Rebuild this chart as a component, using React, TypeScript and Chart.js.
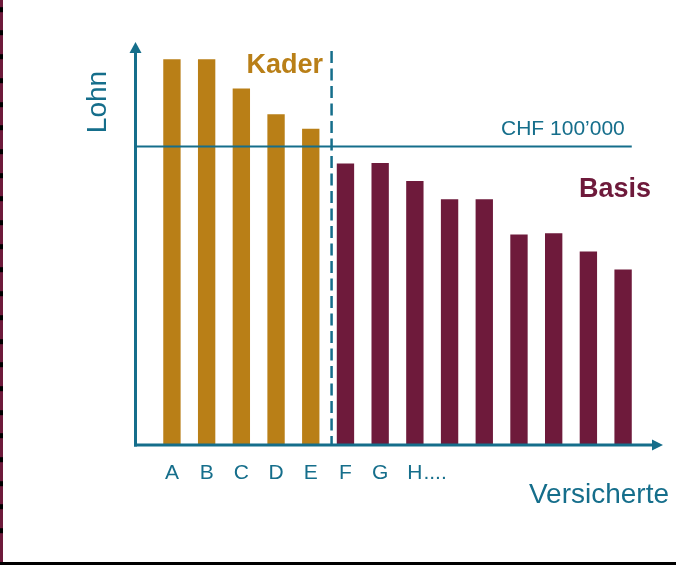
import React, { useEffect, useRef } from "react";
import { Chart, registerables } from "chart.js";

Chart.register(...registerables);

// ---- data ----
const tickLabels = ["A", "B", "C", "D", "E", "F", "G", "H"];
const tickEllipsis = "....";
const kaderValues = [129200, 129200, 119400, 110800, 105900];
const basisValues = [94300, 94500, 88400, 82300, 82300, 70500, 70900, 64800, 58800];
const thresholdValue = 100000;
const thresholdLabel = "CHF 100’000";
const kaderLabel = "Kader";
const basisLabel = "Basis";
const yTitle = "Lohn";
const xTitle = "Versicherte";
const dividerValue = 4.6;

// ---- styles ----
const FONT = '"Liberation Sans", Arial, sans-serif';
const TEAL = "#156E8B";
const GOLD = "#B97F17";
const MAROON = "#6E1A3B";
const TICK_SIZE = 21;

const kaderPoints = kaderValues.map((v, i) => ({ x: i, y: v }));
const basisPoints = basisValues.map((v, i) => ({ x: kaderValues.length + i, y: v }));

const annotPlugin = {
  id: "annot",
  afterDatasetsDraw(chart: any) {
    const { ctx, chartArea: ca, scales } = chart;
    const x = scales.x;
    const y = scales.y;
    ctx.save();

    // threshold line up to the right edge of the last bar
    const meta = chart.getDatasetMeta(1);
    const lastBar = meta.data[meta.data.length - 1];
    const lineEnd = lastBar.x + lastBar.width / 2;
    const ty = y.getPixelForValue(thresholdValue);
    ctx.strokeStyle = TEAL;
    ctx.lineWidth = 1.8;
    ctx.beginPath();
    ctx.moveTo(ca.left, ty);
    ctx.lineTo(lineEnd, ty);
    ctx.stroke();

    // dashed divider
    const dx = x.getPixelForValue(dividerValue);
    ctx.setLineDash([12, 5.5]);
    ctx.lineWidth = 2.5;
    ctx.beginPath();
    ctx.moveTo(dx, ca.top + 9);
    ctx.lineTo(dx, ca.bottom);
    ctx.stroke();
    ctx.setLineDash([]);

    // axes with arrows
    ctx.lineWidth = 3;
    ctx.strokeStyle = TEAL;
    ctx.fillStyle = TEAL;
    ctx.beginPath();
    ctx.moveTo(ca.left, ca.bottom + 1.5);
    ctx.lineTo(ca.left, ca.top + 10);
    ctx.stroke();
    ctx.beginPath();
    ctx.moveTo(ca.left - 1.5, ca.bottom);
    ctx.lineTo(ca.right - 10, ca.bottom);
    ctx.stroke();
    ctx.beginPath();
    ctx.moveTo(ca.left, ca.top);
    ctx.lineTo(ca.left - 6, ca.top + 11);
    ctx.lineTo(ca.left + 6, ca.top + 11);
    ctx.closePath();
    ctx.fill();
    ctx.beginPath();
    ctx.moveTo(ca.right, ca.bottom);
    ctx.lineTo(ca.right - 11, ca.bottom - 5.5);
    ctx.lineTo(ca.right - 11, ca.bottom + 5.5);
    ctx.closePath();
    ctx.fill();

    // texts
    ctx.textBaseline = "alphabetic";
    ctx.textAlign = "right";
    ctx.fillStyle = TEAL;
    ctx.font = `21px ${FONT}`;
    ctx.fillText(thresholdLabel, lineEnd - 7, ty - 11);

    ctx.font = `bold 27px ${FONT}`;
    ctx.fillStyle = GOLD;
    ctx.fillText(kaderLabel, dx - 8.5, ca.top + 31);
    ctx.fillStyle = MAROON;
    ctx.fillText(basisLabel, ca.right - 12, ty + 51);

    ctx.fillStyle = TEAL;
    ctx.font = `28px ${FONT}`;
    ctx.fillText(xTitle, ca.right + 6, ca.bottom + 58);

    ctx.save();
    ctx.translate(ca.left - 29.5, ca.top + 60);
    ctx.rotate(-Math.PI / 2);
    ctx.textAlign = "center";
    ctx.fillText(yTitle, 0, 0);
    ctx.restore();

    // ellipsis after last tick label
    const items = x.getLabelItems ? x.getLabelItems() : [];
    const last = items[tickLabels.length - 1];
    ctx.font = `${TICK_SIZE}px ${FONT}`;
    const lastLabel = tickLabels[tickLabels.length - 1];
    const hw = ctx.measureText(lastLabel).width;
    const hx = x.getPixelForValue(tickLabels.length - 1);
    let ly = ca.bottom + 28;
    let baseline = "middle";
    if (last) {
      ly = last.options.translation[1] + last.textOffset;
      baseline = last.options.textBaseline || "middle";
    }
    ctx.textAlign = "left";
    ctx.textBaseline = baseline;
    ctx.fillText(tickEllipsis, hx + hw / 2 + 1, ly);

    ctx.restore();
  },
};

export default function App() {
  const canvasRef = useRef<HTMLCanvasElement | null>(null);

  useEffect(() => {
    document.body.style.margin = "0";
    const canvas = canvasRef.current;
    if (!canvas) return;
    const chart = new Chart(canvas, {
      type: "bar",
      data: {
        datasets: [
          {
            label: kaderLabel,
            data: kaderPoints as any,
            backgroundColor: GOLD,
            grouped: false,
            barPercentage: 0.5,
            categoryPercentage: 1,
          } as any,
          {
            label: basisLabel,
            data: basisPoints as any,
            backgroundColor: MAROON,
            grouped: false,
            barPercentage: 0.5,
            categoryPercentage: 1,
          } as any,
        ],
      },
      options: {
        responsive: false,
        animation: false,
        layout: { padding: { left: 135.5, right: 13, top: 42, bottom: 0 } },
        plugins: {
          legend: { display: false },
          tooltip: { enabled: false },
        },
        scales: {
          x: {
            type: "linear",
            offset: false,
            min: -1.05,
            max: 14.15,
            grid: { display: false, drawTicks: false, offset: false },
            border: { display: false },
            afterBuildTicks: (s: any) => {
              s.ticks = tickLabels.map((_, i) => ({ value: i }));
            },
            afterFit: (s: any) => {
              s.height = 117;
            },
            ticks: {
              autoSkip: false,
              maxRotation: 0,
              padding: 16,
              color: TEAL,
              font: { family: FONT, size: TICK_SIZE },
              callback: (v: any) => tickLabels[v] ?? "",
            },
          },
          y: { display: false, min: 0, max: 135000 },
        },
      } as any,
      plugins: [annotPlugin as any],
    });
    return () => chart.destroy();
  }, []);

  return (
    <div
      style={{
        position: "fixed",
        left: 0,
        top: 0,
        width: 676,
        height: 565,
        background: "#000",
        overflow: "hidden",
      }}
    >
      <div
        style={{
          position: "absolute",
          left: 0,
          top: 0,
          width: 676,
          height: 562,
          background: "#fff",
        }}
      />
      <canvas
        ref={canvasRef}
        width={676}
        height={562}
        style={{ position: "absolute", left: 0, top: 0, width: 676, height: 562 }}
      />
      <div
        style={{
          position: "absolute",
          left: 0,
          top: 0,
          width: 3,
          height: 562,
          background: `repeating-linear-gradient(to bottom, ${MAROON} 0px, ${MAROON} 18.7px, #000 18.7px, #000 23.7px)`,
          backgroundPosition: "0 -11.8px",
        }}
      />
    </div>
  );
}
